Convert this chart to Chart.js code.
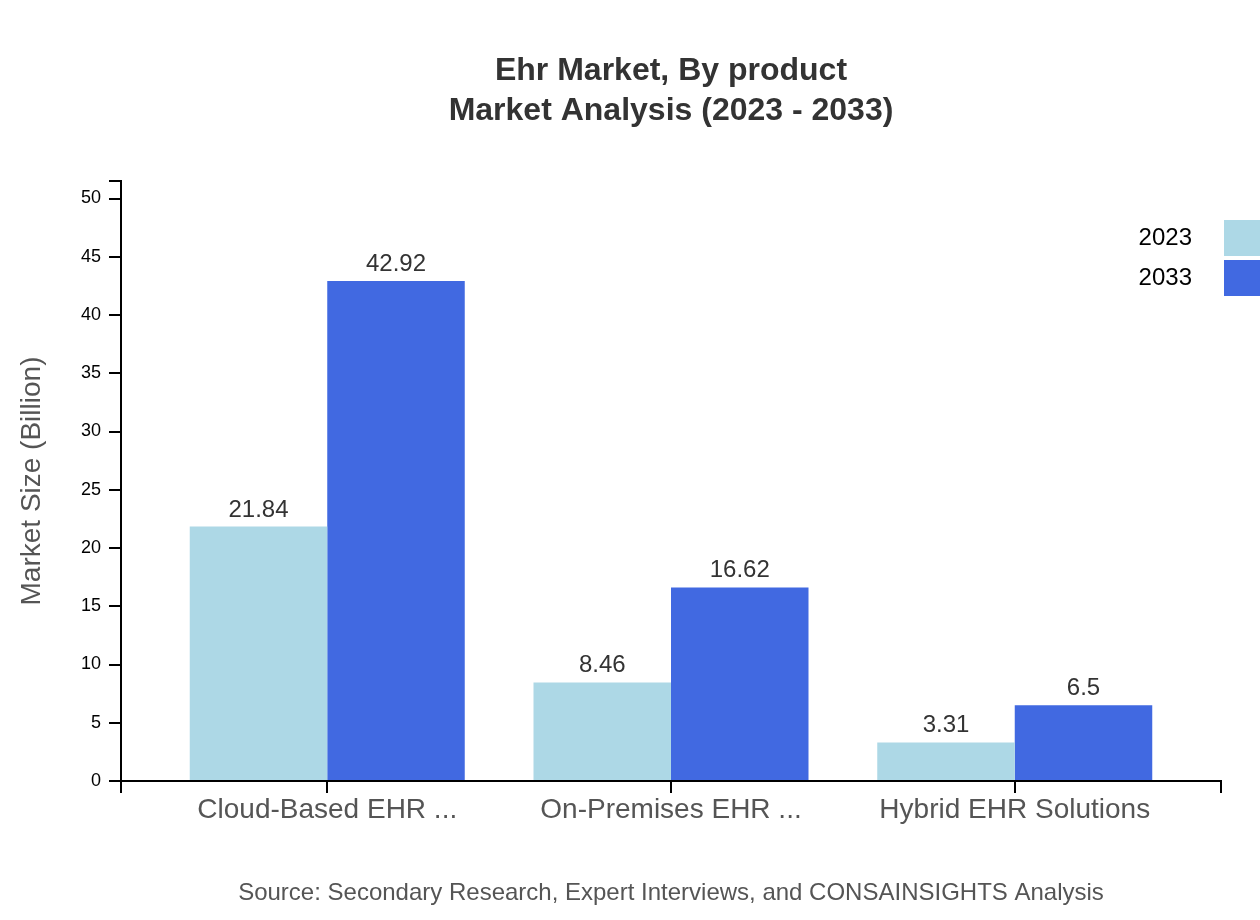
<!DOCTYPE html>
<html>
<head>
<meta charset="utf-8">
<title>Ehr Market, By product</title>
<script src="https://cdn.jsdelivr.net/npm/chart.js@4.4.0/dist/chart.umd.min.js"></script>
<style>
  html, body { margin: 0; padding: 0; background: #fff; }
  canvas { display: block; }
</style>
</head>
<body>
<canvas id="ehrChart" width="1260" height="920"></canvas>
<script>
const categories = ['Cloud-Based EHR ...', 'On-Premises EHR ...', 'Hybrid EHR Solutions'];
const years = ['2023', '2033'];
const values2023 = [21.84, 8.46, 3.31];
const values2033 = [42.92, 16.62, 6.5];
const yTicks = [0, 5, 10, 15, 20, 25, 30, 35, 40, 45, 50];
const colors = ['#ADD8E6', '#4169E1'];
const titleLines = ['Ehr Market, By product', 'Market Analysis (2023 - 2033)'];
const sourceText = 'Source: Secondary Research, Expert Interviews, and CONSAINSIGHTS Analysis';

const FONT = '"Liberation Sans", Arial, Helvetica, sans-serif';
const yMax = Math.max(...values2023, ...values2033) * 1.2;

Chart.defaults.font.family = FONT;

// title, legend, source and the little end caps on the x axis
const decorPlugin = {
    id: 'decor',
    afterDraw(chart) {
        const { ctx, chartArea } = chart;
        const midX = (chartArea.left + chartArea.right) / 2;
        ctx.save();

        ctx.fillStyle = '#333';
        ctx.font = 'bold 32px ' + FONT;
        ctx.textAlign = 'center';
        ctx.textBaseline = 'middle';
        titleLines.forEach((line, i) => ctx.fillText(line, midX, 71 + i * 40));

        ctx.fillStyle = '#555';
        ctx.font = '24px ' + FONT;
        ctx.textBaseline = 'alphabetic';
        ctx.fillText(sourceText, midX, 900);

        chart.data.datasets.forEach((ds, i) => {
            const y = 220 + i * 40;
            ctx.fillStyle = ds.backgroundColor;
            ctx.fillRect(chartArea.right + 3, y, 36, 36);
            ctx.fillStyle = '#000';
            ctx.font = '24px ' + FONT;
            ctx.textAlign = 'right';
            ctx.textBaseline = 'middle';
            ctx.fillText(ds.label, chartArea.right - 29, y + 18);
        });

        ctx.strokeStyle = '#000';
        ctx.lineWidth = 2;
        [chartArea.left, chartArea.right].forEach(x => {
            ctx.beginPath();
            ctx.moveTo(x, chartArea.bottom);
            ctx.lineTo(x, chartArea.bottom + 12);
            ctx.stroke();
        });
        ctx.restore();
    }
};

const valueLabelPlugin = {
    id: 'valueLabels',
    afterDatasetsDraw(chart) {
        const { ctx } = chart;
        ctx.save();
        ctx.fillStyle = '#333';
        ctx.font = '24px ' + FONT;
        ctx.textAlign = 'center';
        ctx.textBaseline = 'alphabetic';
        chart.data.datasets.forEach((ds, i) => {
            chart.getDatasetMeta(i).data.forEach((bar, j) => {
                ctx.fillText(String(ds.data[j].y), bar.x, bar.y - 10);
            });
        });
        ctx.restore();
    }
};

const toPoints = (arr) => arr.map((v, i) => ({ x: i, y: v }));

new Chart(document.getElementById('ehrChart'), {
    type: 'bar',
    data: {
        datasets: [
            { label: years[0], data: toPoints(values2023), backgroundColor: colors[0] },
            { label: years[1], data: toPoints(values2033), backgroundColor: colors[1] }
        ]
    },
    options: {
        responsive: false,
        animation: false,
        devicePixelRatio: 1,
        layout: { padding: { top: 181, right: 39, left: 0, bottom: 0 } },
        datasets: { bar: { categoryPercentage: 0.8, barPercentage: 1, borderWidth: 0 } },
        plugins: {
            legend: { display: false },
            tooltip: { enabled: false }
        },
        scales: {
            x: {
                type: 'linear',
                offset: false,
                min: -0.6,
                max: categories.length - 0.4,
                afterBuildTicks: (scale) => {
                    scale.ticks = categories.map((c, i) => ({ value: i }));
                },
                afterFit: (scale) => { scale.height = 139; },
                grid: { display: true, offset: false, drawOnChartArea: false, drawTicks: true, tickLength: 12, color: '#000', lineWidth: 2 },
                border: { display: true, color: '#000', width: 2 },
                ticks: {
                    autoSkip: false,
                    maxRotation: 0,
                    minRotation: 0,
                    padding: 0,
                    color: '#555',
                    font: { size: 28 },
                    callback: (v) => categories[v] ?? ''
                }
            },
            y: {
                min: 0,
                max: yMax,
                afterBuildTicks: (scale) => {
                    scale.ticks = [...yTicks, yMax].map(v => ({ value: v }));
                },
                afterFit: (scale) => { scale.width = 121; },
                grid: { display: true, drawOnChartArea: false, drawTicks: true, tickLength: 12, color: '#000', lineWidth: 2 },
                border: { display: true, color: '#000', width: 2 },
                ticks: {
                    padding: 8,
                    color: '#000',
                    font: { size: 18 },
                    callback: (v) => yTicks.includes(v) ? v : ''
                },
                title: {
                    display: true,
                    text: 'Market Size (Billion)',
                    color: '#555',
                    font: { size: 28 },
                    padding: { top: 15, bottom: 0 }
                }
            }
        }
    },
    plugins: [decorPlugin, valueLabelPlugin]
});
</script>
</body>
</html>
